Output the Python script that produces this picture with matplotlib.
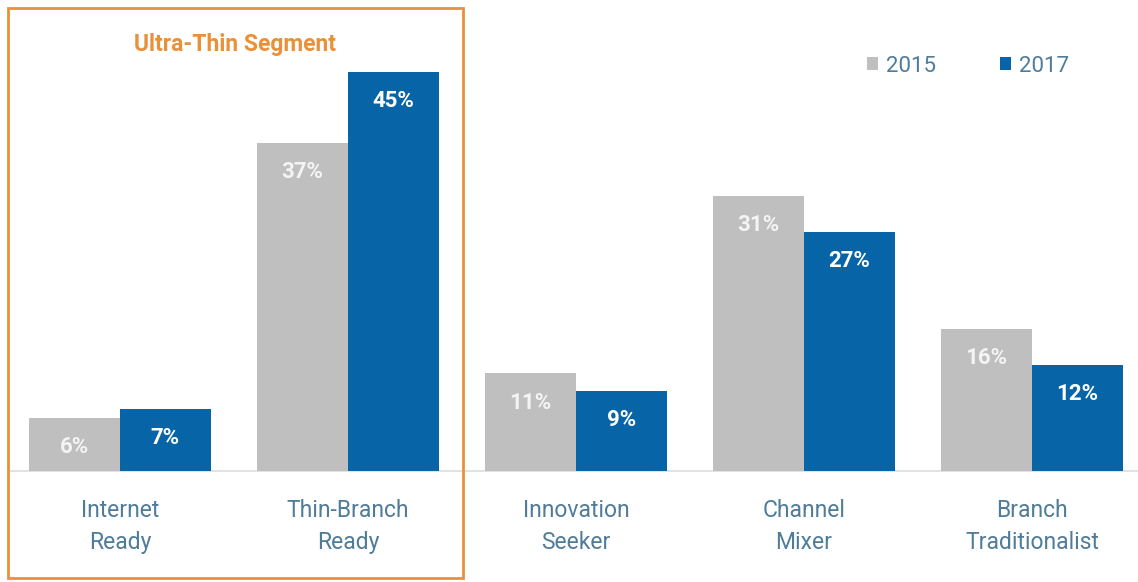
import matplotlib.pyplot as plt
import numpy as np
from matplotlib.patches import Rectangle

categories = ["Internet\nReady", "Thin-Branch\nReady", "Innovation\nSeeker", "Channel\nMixer", "Branch\nTraditionalist"]
v2015 = [6, 37, 11, 31, 16]
v2017 = [7, 45, 9, 27, 12]
years = ["2015", "2017"]

gray = "#BFBFBF"
blue = "#0765A7"
orange = "#E8913A"
labcol = "#4F7C99"

plt.rcParams['font.family'] = ['Roboto', 'DejaVu Sans']

fig = plt.figure(figsize=(11.38, 5.82), dpi=100)
ax = fig.add_axes([0, 0, 1, 1])
ax.set_xlim(-0.526, 4.465)
ax.set_ylim(-12.51, 53.1)
ax.axis('off')

x = np.arange(len(categories))
w = 0.399
b1 = ax.bar(x - w/2, v2015, w, color=gray, label=years[0], zorder=2)
b2 = ax.bar(x + w/2, v2017, w, color=blue, label=years[1], zorder=2)

# baseline
ax.plot([-0.48, 4.465], [0, 0], color="#DDDDDD", lw=1.2, zorder=1)

for xi, v in zip(x, v2015):
    ax.text(xi - w/2, v - 3.3, f"{v}%", ha='center', va='center', color="#F4F4F4",
            fontsize=16, fontweight='bold')
for xi, v in zip(x, v2017):
    ax.text(xi + w/2, v - 3.3, f"{v}%", ha='center', va='center', color="white",
            fontsize=16, fontweight='bold')

for xi, c in zip(x, categories):
    ax.text(xi, -6.2, c, ha='center', va='center', color=labcol, fontsize=16.5,
            linespacing=1.5)

# ultra-thin segment box
fig.patches.append(Rectangle((8/1138, 4/582), 455/1138, 570/582, transform=fig.transFigure,
                             fill=False, edgecolor=orange, lw=2))
fig.text(235/1138, 1 - 44/582, "Ultra-Thin Segment", ha='center', va='center',
         color=orange, fontsize=16.5, fontweight='bold')

leg = ax.legend(loc='center', bbox_to_anchor=(968/1138, 1 - 66/582), ncol=2, frameon=False,
                handlelength=0.5, handleheight=0.5, handletextpad=0.35, columnspacing=2.9,
                fontsize=16)
for t in leg.get_texts():
    t.set_color(labcol)

fig.savefig("out.png", dpi=100)
